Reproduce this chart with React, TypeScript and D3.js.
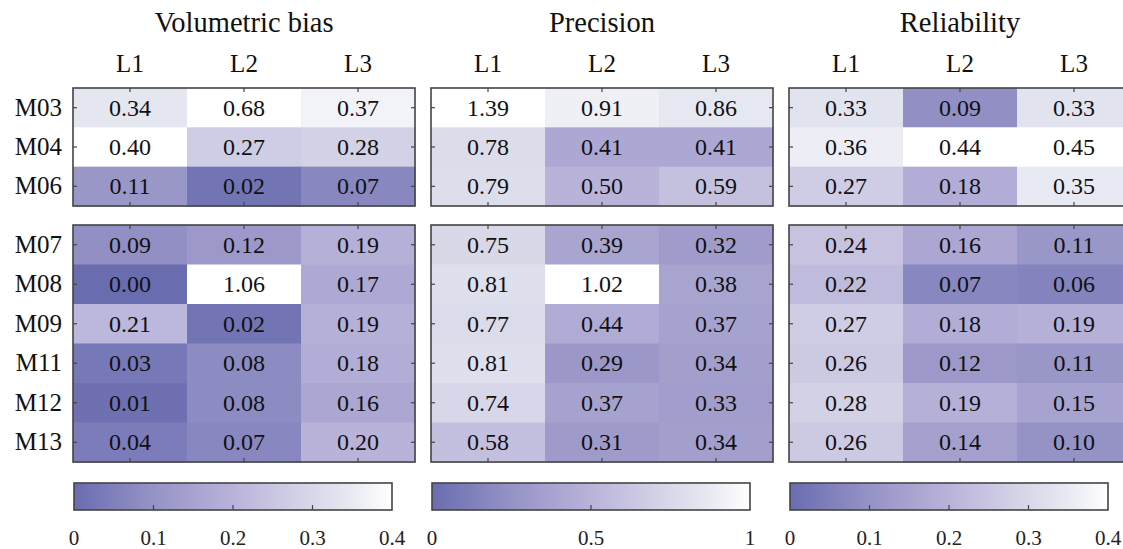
import React, { useEffect, useRef } from "react";
import * as d3 from "d3";

// data
const colLabels = ["L1", "L2", "L3"];
const topRows = ["M03", "M04", "M06"];
const bottomRows = ["M07", "M08", "M09", "M11", "M12", "M13"];

const biasValues = [
  [0.34, 0.68, 0.37],
  [0.4, 0.27, 0.28],
  [0.11, 0.02, 0.07],
  [0.09, 0.12, 0.19],
  [0.0, 1.06, 0.17],
  [0.21, 0.02, 0.19],
  [0.03, 0.08, 0.18],
  [0.01, 0.08, 0.16],
  [0.04, 0.07, 0.2],
];
const precisionValues = [
  [1.39, 0.91, 0.86],
  [0.78, 0.41, 0.41],
  [0.79, 0.5, 0.59],
  [0.75, 0.39, 0.32],
  [0.81, 1.02, 0.38],
  [0.77, 0.44, 0.37],
  [0.81, 0.29, 0.34],
  [0.74, 0.37, 0.33],
  [0.58, 0.31, 0.34],
];
const reliabilityValues = [
  [0.33, 0.09, 0.33],
  [0.36, 0.44, 0.45],
  [0.27, 0.18, 0.35],
  [0.24, 0.16, 0.11],
  [0.22, 0.07, 0.06],
  [0.27, 0.18, 0.19],
  [0.26, 0.12, 0.11],
  [0.28, 0.19, 0.15],
  [0.26, 0.14, 0.1],
];

const panelTitles = ["Volumetric bias", "Precision", "Reliability"];
const panelMax = [0.4, 1, 0.4];
const colorbarTicks = [
  [0, 0.1, 0.2, 0.3, 0.4],
  [0, 0.5, 1],
  [0, 0.1, 0.2, 0.3, 0.4],
];

const W = 1123,
  H = 549;
const FONT = "'Liberation Serif', 'Times New Roman', serif";

// custom purple -> white map
const cmapStops = [0, 0.25, 0.5, 0.7, 0.85, 1];
const cmapColors = ["#6a6cb0", "#9593c6", "#b9b3da", "#d2d1e6", "#e4e6f0", "#ffffff"];

const App = () => {
  const ref = useRef<SVGSVGElement>(null);

  useEffect(() => {
    const svg = d3.select(ref.current);
    svg.selectAll("*").remove();

    const allValues = [biasValues, precisionValues, reliabilityValues];
    const panelX = [73, 431, 789];
    const panelW = 342;
    const cbW = 318;
    const topY: [number, number] = [88, 206];
    const botY: [number, number] = [225, 462];
    const cbY = [483, 510];
    const axisCol = "#444";

    const defs = svg.append("defs");

    allValues.forEach((vals, p) => {
      const x0 = panelX[p];
      const g = svg.append("g");
      const cmap = d3
        .scaleLinear<string>()
        .domain(cmapStops.map((s) => s * panelMax[p]))
        .range(cmapColors)
        .clamp(true);

      const x = d3
        .scaleBand()
        .domain(colLabels)
        .range([x0, x0 + panelW]);

      // title
      g.append("text")
        .attr("x", x0 + panelW / 2)
        .attr("y", 32)
        .attr("text-anchor", "middle")
        .style("font-family", FONT)
        .style("font-size", "28.5px")
        .attr("fill", "#111")
        .text(panelTitles[p]);

      // column labels
      g.selectAll("text.col")
        .data(colLabels)
        .enter()
        .append("text")
        .attr("class", "col")
        .attr("x", (d) => x(d)! + x.bandwidth() / 2)
        .attr("y", 72)
        .attr("text-anchor", "middle")
        .style("font-family", FONT)
        .style("font-size", "25px")
        .attr("fill", "#111")
        .text((d) => d);

      const blocks = [
        { rows: topRows, vals: vals.slice(0, 3), range: topY },
        { rows: bottomRows, vals: vals.slice(3), range: botY },
      ];

      blocks.forEach((b) => {
        const y = d3.scaleBand().domain(b.rows).range(b.range);
        const cells = b.vals.flatMap((row, i) =>
          row.map((v, j) => ({ r: b.rows[i], c: colLabels[j], v }))
        );

        g.selectAll(null)
          .data(cells)
          .enter()
          .append("rect")
          .attr("x", (d) => x(d.c)!)
          .attr("y", (d) => y(d.r)!)
          .attr("width", x.bandwidth() + 0.5)
          .attr("height", y.bandwidth() + 0.5)
          .attr("fill", (d) => cmap(d.v));

        g.selectAll(null)
          .data(cells)
          .enter()
          .append("text")
          .attr("x", (d) => x(d.c)! + x.bandwidth() / 2)
          .attr("y", (d) => y(d.r)! + y.bandwidth() / 2 + 8)
          .attr("text-anchor", "middle")
          .style("font-family", FONT)
          .style("font-size", "24px")
          .attr("fill", "#111")
          .text((d) => d.v.toFixed(2));

        // frame
        g.append("rect")
          .attr("x", x0)
          .attr("y", b.range[0])
          .attr("width", panelW)
          .attr("height", b.range[1] - b.range[0])
          .attr("fill", "none")
          .attr("stroke", axisCol)
          .attr("stroke-width", 1.6);

        // inward ticks
        b.rows.forEach((r) => {
          const yc = y(r)! + y.bandwidth() / 2;
          g.append("line")
            .attr("x1", x0)
            .attr("x2", x0 + 4)
            .attr("y1", yc)
            .attr("y2", yc)
            .attr("stroke", axisCol)
            .attr("stroke-width", 1.2);
          g.append("line")
            .attr("x1", x0 + panelW)
            .attr("x2", x0 + panelW - 4)
            .attr("y1", yc)
            .attr("y2", yc)
            .attr("stroke", axisCol)
            .attr("stroke-width", 1.2);
        });
        colLabels.forEach((c) => {
          const xc = x(c)! + x.bandwidth() / 2;
          g.append("line")
            .attr("x1", xc)
            .attr("x2", xc)
            .attr("y1", b.range[0])
            .attr("y2", b.range[0] + 4)
            .attr("stroke", axisCol)
            .attr("stroke-width", 1.2);
          g.append("line")
            .attr("x1", xc)
            .attr("x2", xc)
            .attr("y1", b.range[1])
            .attr("y2", b.range[1] - 4)
            .attr("stroke", axisCol)
            .attr("stroke-width", 1.2);
        });

        // row labels only on first panel
        if (p === 0) {
          g.selectAll(null)
            .data(b.rows)
            .enter()
            .append("text")
            .attr("x", 62)
            .attr("y", (d) => y(d)! + y.bandwidth() / 2 + 8)
            .attr("text-anchor", "end")
            .style("font-family", FONT)
            .style("font-size", "25px")
            .attr("fill", "#111")
            .text((d) => d);
        }
      });

      // colorbar
      const gradId = "cb" + p;
      const grad = defs
        .append("linearGradient")
        .attr("id", gradId)
        .attr("x1", "0%")
        .attr("x2", "100%")
        .attr("y1", "0%")
        .attr("y2", "0%");
      cmapStops.forEach((s, i) => {
        grad
          .append("stop")
          .attr("offset", s * 100 + "%")
          .attr("stop-color", cmapColors[i]);
      });

      const cx = d3
        .scaleLinear()
        .domain([0, panelMax[p]])
        .range([x0 + 1, x0 + 1 + cbW]);

      g.append("rect")
        .attr("x", cx(0))
        .attr("y", cbY[0])
        .attr("width", cbW)
        .attr("height", cbY[1] - cbY[0])
        .attr("fill", `url(#${gradId})`)
        .attr("stroke", axisCol)
        .attr("stroke-width", 1.6);

      colorbarTicks[p].forEach((t) => {
        if (t > 0 && t < panelMax[p]) {
          g.append("line")
            .attr("x1", cx(t))
            .attr("x2", cx(t))
            .attr("y1", cbY[1])
            .attr("y2", cbY[1] - 5)
            .attr("stroke", axisCol)
            .attr("stroke-width", 1.2);
        }
        g.append("text")
          .attr("x", cx(t))
          .attr("y", 545)
          .attr("text-anchor", "middle")
          .style("font-family", FONT)
          .style("font-size", "21px")
          .attr("fill", "#222")
          .text(String(t));
      });
    });
  }, []);

  return (
    <svg
      ref={ref}
      width={W}
      height={H}
      style={{ position: "absolute", left: 0, top: 0, background: "#fff" }}
    />
  );
};

export default App;
